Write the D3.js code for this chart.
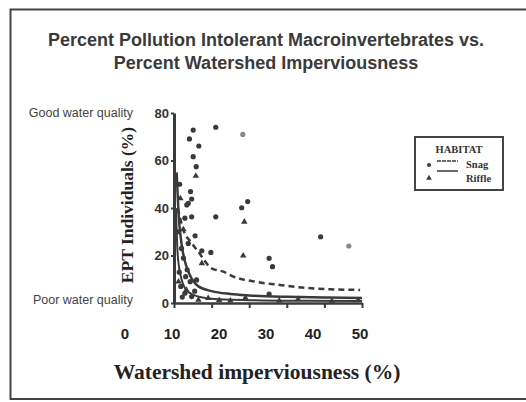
<!DOCTYPE html>
<html>
<head>
<meta charset="utf-8">
<script src="https://cdn.jsdelivr.net/npm/d3@7"></script>
<style>
  body { margin: 0; background: #fff; }
  svg { display: block; }
</style>
</head>
<body>
<div id="chart"></div>
<script>
// values (x = watershed imperviousness %, y = EPT individuals %)
var snagX = [5.1, 11.1, 4.1, 6.6, 5.1, 5.9, 4.4, 4.7, 3.4, 18.0, 19.6, 11.1, 4.7, 5.6, 7.4, 9.8, 25.3, 26.2, 39.0, 3.8, 2.9, 3.8, 2.5, 3.1, 4.3, 6.0, 2.9, 4.7, 25.3, 1.5, 1.0, 2.0, 1.4, 1.8, 3.5, 5.5, 2.2]
var snagY = [72.8, 74.0, 69.1, 66.1, 61.6, 57.4, 46.9, 43.8, 41.3, 40.1, 42.7, 36.3, 36.3, 28.3, 22.0, 21.3, 18.8, 15.3, 27.9, 42.0, 35.7, 25.1, 18.9, 11.1, 9.0, 9.7, 4.1, 2.7, 3.8, 50, 30, 23, 13, 7, 14, 5, 2.5]
var faintX = [18.3, 46.5]
var faintY = [71.0, 24.0]
var riffleX = [5.8, 18.7, 18.4, 7.4, 6.5, 9.1, 3.3, 1.2, 12, 19, 28, 33, 42, 49, 2.5, 1.7, 15]
var riffleY = [53.5, 34.2, 19.9, 16.7, 1.3, 2.0, 5.5, 9, 1.2, 2.2, 1.0, 1.6, 0.9, 1.2, 31, 44, 1.0]

// fitted curves
var snagFitX = [1.0, 2.5, 4.7, 6.5, 10, 13.1, 15.8, 21.5, 28.2, 34.8, 41.5, 49.5]
var snagFitY = [40, 30.7, 25.3, 21.5, 14.6, 13.2, 11.1, 9.0, 7.6, 6.4, 5.8, 5.5]
var riffleFitX = [0.7, 1.2, 2, 3, 4, 6.5, 10, 15, 20, 30, 40, 50]
var riffleFitY = [55, 38, 25, 17, 12.5, 7, 5, 3.8, 3.2, 2.6, 2.3, 2.1]
var lowFitX = [0.5, 1, 2, 3, 5, 10, 20, 35, 50]
var lowFitY = [40, 20, 10, 6, 3.5, 1.8, 1.2, 0.9, 0.8]

var xTicks = [0, 10, 20, 30, 40, 50]
var yTicks = [0, 20, 40, 60, 80]
var titleLines = ["Percent Pollution Intolerant Macroinvertebrates vs.", "Percent Watershed Imperviousness"]

var ink = "#3a3a3a"
var svg = d3.select("#chart").append("svg").attr("width", 526).attr("height", 402)

// frame of the scanned page
svg.append("path").attr("d", "M526,9.5 L10.5,9.5 L10.5,399 L526,399")
  .attr("fill", "none").attr("stroke", "#444").attr("stroke-width", 2)

var title = svg.append("g")
titleLines.forEach(function(t, i){
  title.append("text")
    .attr("x", 266).attr("y", 46 + i * 23)
    .attr("text-anchor", "middle")
    .attr("font-family", "Liberation Sans, Arial, sans-serif")
    .attr("font-weight", "bold")
    .attr("font-size", 18)
    .attr("fill", "#3a3a3a")
    .text(t)
})

var x = d3.scaleLinear().domain([0, 50]).range([174, 362])
var y = d3.scaleLinear().domain([0, 80]).range([303, 113])
// the big number row under the axis sits on its own spacing in the original
var xl = d3.scaleLinear().domain([0, 50]).range([125, 360])

var xAxis = svg.append("g").attr("transform", "translate(0," + y(0) + ")")
  .call(d3.axisBottom(x).tickValues(xTicks).tickSize(5).tickSizeOuter(0).tickFormat(""))
xAxis.select(".domain").attr("stroke", ink).attr("stroke-width", 2.5)
xAxis.selectAll(".tick line").attr("stroke", ink).attr("stroke-width", 2)

var yAxis = svg.append("g").attr("transform", "translate(" + x(0) + ",0)")
  .call(d3.axisLeft(y).tickValues(yTicks).tickSize(3).tickSizeOuter(0).tickPadding(2))
yAxis.select(".domain").attr("stroke", ink).attr("stroke-width", 3)
yAxis.selectAll(".tick line").attr("stroke", ink).attr("stroke-width", 2)
yAxis.selectAll(".tick text")
  .attr("font-family", "Liberation Sans, Arial, sans-serif")
  .attr("font-weight", "bold").attr("font-size", 13).attr("fill", "#333")

svg.append("g").selectAll("text").data(xTicks).enter().append("text")
  .attr("x", function(d){ return xl(d) })
  .attr("y", 339)
  .attr("text-anchor", "middle")
  .attr("font-family", "Liberation Sans, Arial, sans-serif")
  .attr("font-weight", "bold").attr("font-size", 15).attr("fill", "#222")
  .text(function(d){ return d })

svg.append("text")
  .attr("x", 257).attr("y", 379)
  .attr("text-anchor", "middle")
  .attr("font-family", "Liberation Serif, Times New Roman, serif")
  .attr("font-weight", "bold").attr("font-size", 21.5).attr("fill", "#222")
  .text("Watershed imperviousness (%)")

svg.append("text")
  .attr("transform", "translate(133,205) rotate(-90)")
  .attr("text-anchor", "middle")
  .attr("font-family", "Liberation Serif, Times New Roman, serif")
  .attr("font-weight", "bold").attr("font-size", 17.5).attr("fill", "#222")
  .text("EPT Individuals (%)")

svg.append("text").attr("x", 133).attr("y", 117).attr("text-anchor", "end")
  .attr("font-family", "Liberation Sans, Arial, sans-serif").attr("font-size", 12.5).attr("fill", "#444")
  .text("Good water quality")
svg.append("text").attr("x", 133).attr("y", 304).attr("text-anchor", "end")
  .attr("font-family", "Liberation Sans, Arial, sans-serif").attr("font-size", 12.5).attr("fill", "#444")
  .text("Poor water quality")

// fitted lines
var line = d3.line()
  .x(function(d){ return x(d[0]) })
  .y(function(d){ return y(d[1]) })
  .curve(d3.curveMonotoneX)
function zip(a, b){ return a.map(function(v, i){ return [v, b[i]] }) }

svg.append("path").datum(zip(snagFitX, snagFitY)).attr("d", line)
  .attr("fill", "none").attr("stroke", ink).attr("stroke-width", 2.5).attr("stroke-dasharray", "6,4")
svg.append("path").datum(zip(riffleFitX, riffleFitY)).attr("d", line)
  .attr("fill", "none").attr("stroke", ink).attr("stroke-width", 2.5)
svg.append("path").datum(zip(lowFitX, lowFitY)).attr("d", line)
  .attr("fill", "none").attr("stroke", ink).attr("stroke-width", 2)

// points
svg.append("g").selectAll("circle").data(zip(snagX, snagY)).enter().append("circle")
  .attr("cx", function(d){ return x(d[0]) })
  .attr("cy", function(d){ return y(d[1]) })
  .attr("r", 2.6).attr("fill", ink)
svg.append("g").selectAll("circle").data(zip(faintX, faintY)).enter().append("circle")
  .attr("cx", function(d){ return x(d[0]) })
  .attr("cy", function(d){ return y(d[1]) })
  .attr("r", 2.6).attr("fill", "#888")
var tri = d3.symbol().type(d3.symbolTriangle).size(18)
svg.append("g").selectAll("path").data(zip(riffleX, riffleY)).enter().append("path")
  .attr("d", tri)
  .attr("transform", function(d){ return "translate(" + x(d[0]) + "," + y(d[1]) + ")" })
  .attr("fill", ink)

// legend
var leg = svg.append("g").attr("transform", "translate(415,137)")
leg.append("rect").attr("width", 88).attr("height", 53)
  .attr("fill", "#fff").attr("stroke", "#444").attr("stroke-width", 2)
leg.append("text").attr("x", 44).attr("y", 16).attr("text-anchor", "middle")
  .attr("font-family", "Liberation Serif, Times New Roman, serif").attr("font-weight", "bold")
  .attr("font-size", 10.5).attr("fill", "#333").text("HABITAT")
leg.append("circle").attr("cx", 14).attr("cy", 28).attr("r", 2).attr("fill", ink)
leg.append("path").attr("d", d3.symbol().type(d3.symbolTriangle).size(14))
  .attr("transform", "translate(14,41)").attr("fill", ink)
leg.append("line").attr("x1", 22).attr("x2", 43).attr("y1", 24).attr("y2", 24)
  .attr("stroke", ink).attr("stroke-width", 1.5).attr("stroke-dasharray", "4,1")
leg.append("line").attr("x1", 22).attr("x2", 43).attr("y1", 34).attr("y2", 34)
  .attr("stroke", ink).attr("stroke-width", 1.5)
leg.append("text").attr("x", 51).attr("y", 31)
  .attr("font-family", "Liberation Serif, Times New Roman, serif").attr("font-weight", "bold")
  .attr("font-size", 10.5).attr("fill", "#333").text("Snag")
leg.append("text").attr("x", 51).attr("y", 45)
  .attr("font-family", "Liberation Serif, Times New Roman, serif").attr("font-weight", "bold")
  .attr("font-size", 10.5).attr("fill", "#333").text("Riffle")
</script>
</body>
</html>
